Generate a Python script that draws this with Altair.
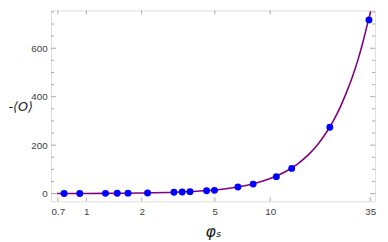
import altair as alt
import pandas as pd

# measured data points
phi_pts = [0.757, 0.921, 1.271, 1.473, 1.685, 2.153, 2.997, 3.321, 3.663, 4.510,
           4.975, 6.675, 8.08, 10.80, 13.09, 21.11, 34.45]
O_pts = [0.4, 0.5, 1.0, 1.3, 1.8, 2.8, 5.3, 6.9, 8.1, 12.1,
         13.3, 27.1, 39.2, 70.0, 104, 274, 717]

# fitted curve
phi_curve = [0.69, 1, 1.5, 2, 3, 4, 5, 6, 7, 8, 10, 12, 14, 16, 18, 20, 22, 24,
             26, 28, 30, 32, 34, 35.2]
O_curve = [0.3, 0.6, 1.4, 2.5, 5.5, 9.9, 15, 22, 30, 39.5, 62, 89, 121, 158, 200,
           247, 299, 356, 418, 482, 552, 628, 708, 752]

x_ticks = [0.7, 1, 2, 5, 10, 35]
y_major = [0, 200, 400, 600]
y_minor = [50, 100, 150, 250, 300, 350, 450, 500, 550, 650, 700, 750]

W, H = 331, 195
FRAME = "#a6a6a6"

pts = pd.DataFrame({"phi": phi_pts, "O": O_pts})
crv = pd.DataFrame({"phi": phi_curve, "O": O_curve})
xt = pd.DataFrame({"phi": x_ticks})
ymaj = pd.DataFrame({"O": y_major})
ymin = pd.DataFrame({"O": y_minor})

xscale = alt.Scale(type="log", domain=[0.643, 37.2], nice=False)
yscale = alt.Scale(domain=[-32, 756], nice=False, zero=False)

xaxis = alt.Axis(values=x_ticks, format="~g", ticks=False, domain=False, grid=False,
                 labelFontSize=10, labelColor="#404040", labelPadding=5,
                 labelFont="Liberation Sans",
                 title="φₛ", titleFont="DejaVu Sans", titleFontSize=16,
                 titleFontStyle="italic", titleFontWeight="normal",
                 titleColor="#222222", titlePadding=8)
yaxis = alt.Axis(values=y_major, ticks=False, domain=False, grid=False,
                 labelFontSize=10, labelColor="#404040", labelPadding=4,
                 labelFont="Liberation Sans",
                 title="-⟨O⟩", titleFont="DejaVu Sans", titleFontSize=13,
                 titleFontStyle="italic", titleFontWeight="normal",
                 titleColor="#222222", titleAngle=0, titleAlign="left",
                 titleBaseline="middle", titleX=-44, titleY=98)

X = alt.X("phi:Q", scale=xscale, axis=xaxis)
Y = alt.Y("O:Q", scale=yscale, axis=yaxis)

curve = alt.Chart(crv).mark_line(color="#800080", strokeWidth=1.6,
                                 interpolate="monotone").encode(x=X, y=Y)
points = alt.Chart(pts).mark_circle(color="#0000ff", size=50, opacity=1).encode(x=X, y=Y)

tick_style = dict(color=FRAME, strokeWidth=1)
yl_major = alt.Chart(ymaj).mark_rule(**tick_style).encode(y=Y, x=alt.value(0), x2=alt.value(5))
yl_minor = alt.Chart(ymin).mark_rule(**tick_style).encode(y=Y, x=alt.value(0), x2=alt.value(3))
yr_major = alt.Chart(ymaj).mark_rule(**tick_style).encode(y=Y, x=alt.value(W), x2=alt.value(W - 5))
yr_minor = alt.Chart(ymin).mark_rule(**tick_style).encode(y=Y, x=alt.value(W), x2=alt.value(W - 3))
xb = alt.Chart(xt).mark_rule(**tick_style).encode(x=X, y=alt.value(H), y2=alt.value(H - 4))
xtop = alt.Chart(xt).mark_rule(**tick_style).encode(x=X, y=alt.value(0), y2=alt.value(4))

chart = alt.layer(yl_major, yl_minor, yr_major, yr_minor, xb, xtop, curve, points).properties(
    width=W, height=H,
    autosize=alt.AutoSizeParams(type="none"),
    padding={"left": 44, "top": 0, "right": 5, "bottom": 38},
).configure_view(stroke=FRAME, strokeWidth=1).configure(background="white")

chart.save("out.html", embed_options={"renderer": "svg", "actions": False})
